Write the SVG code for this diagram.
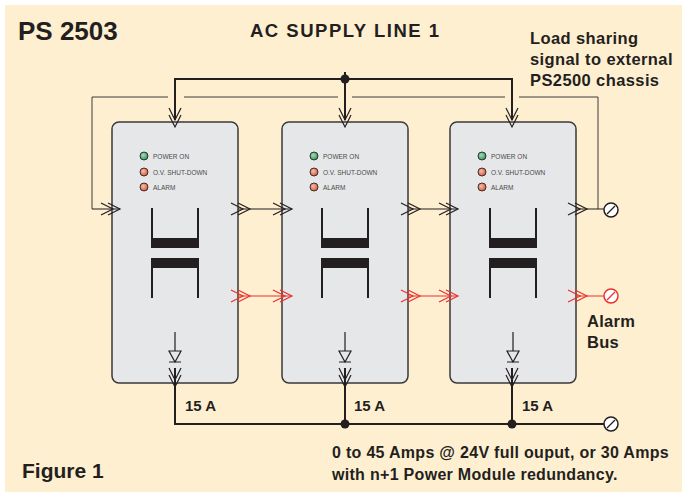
<svg xmlns="http://www.w3.org/2000/svg" xmlns:xlink="http://www.w3.org/1999/xlink" width="682" height="492" viewBox="0 0 682 492">
<style>
.t{font-family:"Liberation Sans",Arial,sans-serif;font-weight:bold;fill:#231f20}
.led{font-family:"Liberation Sans",Arial,sans-serif;font-size:6.5px;fill:#4a4a4a}
.box{fill:#e6e7e9;stroke:#3a3a3a;stroke-width:1.5}
.w{fill:none;stroke:#231f20;stroke-width:1.2}
.ac{fill:none;stroke:#231f20;stroke-width:2}
.ls{fill:none;stroke:#3a3a3a;stroke-width:1}
.red{fill:none;stroke:#e8322e;stroke-width:1.2}
.chk{fill:none;stroke:#231f20;stroke-width:1.2}
.chr{fill:none;stroke:#e8322e;stroke-width:1.2}
.xf{fill:none;stroke:#231f20;stroke-width:2}
.bar{fill:#231f20}
.term{fill:#fff;stroke:#231f20;stroke-width:1.5}
.termr{fill:#fff;stroke:#e8322e;stroke-width:1.5}
.dot{fill:#231f20}
</style>
<defs>
<path id="chev" d="M-12,-6 L0,0 L-12,6 M-19,-6 L-7,0 L-19,6"/>
<radialGradient id="gG" cx="0.4" cy="0.4" r="0.6"><stop offset="0" stop-color="#a8dcb8"/><stop offset="1" stop-color="#2f9a5a"/></radialGradient>
<radialGradient id="gR" cx="0.4" cy="0.4" r="0.6"><stop offset="0" stop-color="#f8c0a8"/><stop offset="1" stop-color="#e4553a"/></radialGradient>
<g id="module">
<rect class="box" x="0" y="0" width="126" height="261" rx="7"/>
<circle cx="32" cy="34" r="4" fill="url(#gG)" stroke="#333" stroke-width="1"/>
<circle cx="32" cy="50" r="4" fill="url(#gR)" stroke="#333" stroke-width="1"/>
<circle cx="32" cy="65" r="4" fill="url(#gR)" stroke="#333" stroke-width="1"/>
<text class="led" x="41" y="36.5">POWER ON</text>
<text class="led" x="41" y="52.5">O.V. SHUT-DOWN</text>
<text class="led" x="41" y="67.5">ALARM</text>
<path class="xf" d="M40,86 V117 M86,86 V117 M40,146 V176 M86,146 V176"/>
<rect class="bar" x="39" y="116" width="48" height="10"/>
<rect class="bar" x="39" y="136" width="48" height="10"/>
<path class="w" d="M63,210 V229 M57,229 H69 L63,240 Z M57,240 H69"/>
</g>
</defs>
<rect x="0" y="0" width="682" height="492" fill="#fff"/>
<rect x="5" y="5" width="677" height="487" fill="#ffefd1"/>

<g id="title">
<text class="t" x="18" y="40" font-size="26">PS 2503</text>
<text class="t" x="250" y="37" font-size="18.5" letter-spacing="1.5">AC SUPPLY  LINE 1</text>
<text class="t" x="530" y="44" font-size="16.5" letter-spacing="0.4">Load sharing</text>
<text class="t" x="530" y="65" font-size="16.5" letter-spacing="0.4">signal to external</text>
<text class="t" x="530" y="86" font-size="16.5" letter-spacing="0.4">PS2500 chassis</text>
</g>

<g id="module1"><use xlink:href="#module" x="112" y="122"/></g>
<g id="module2"><use xlink:href="#module" x="282" y="122"/></g>
<g id="module3"><use xlink:href="#module" x="450" y="122"/></g>

<g id="connectors">
<path class="ac" d="M345,72 V79 M175,120 V79 H512 V120 M345,79 V120"/>
<circle class="dot" cx="345" cy="79" r="4.5"/>
<use href="#chev" class="chk" transform="translate(175,127) rotate(90)"/>
<use href="#chev" class="chk" transform="translate(345,127) rotate(90)"/>
<use href="#chev" class="chk" transform="translate(512,127) rotate(90)"/>
<path class="ls" d="M92,209 V97 H168 M184,97 H338 M352,97 H505 M519,97 H598 V209"/>
<path class="w" d="M92,209 H120 M238,209 H292 M408,209 H458 M576,209 H604"/>
<use href="#chev" class="chk" transform="translate(120,209)"/>
<use href="#chev" class="chk" transform="translate(250,209)"/>
<use href="#chev" class="chk" transform="translate(292,209)"/>
<use href="#chev" class="chk" transform="translate(420,209)"/>
<use href="#chev" class="chk" transform="translate(458,209)"/>
<use href="#chev" class="chk" transform="translate(587,209)"/>
<circle class="term" cx="611" cy="210" r="7"/>
<path class="w" d="M607,214 L615,206" stroke-width="1.5"/>
<path class="red" d="M238,296 H292 M408,296 H458 M576,296 H604"/>
<use href="#chev" class="chr" transform="translate(250,296)"/>
<use href="#chev" class="chr" transform="translate(292,296)"/>
<use href="#chev" class="chr" transform="translate(420,296)"/>
<use href="#chev" class="chr" transform="translate(458,296)"/>
<use href="#chev" class="chr" transform="translate(587,296)"/>
<circle class="termr" cx="611" cy="296" r="7"/>
<path class="red" d="M607,300 L615,292" stroke-width="1.5"/>
<path class="ac" d="M175,368 V424 H604 M345,368 V424 M512,368 V424" stroke-width="1.8"/>
<use href="#chev" class="chk" transform="translate(175,387) rotate(90)"/>
<use href="#chev" class="chk" transform="translate(345,387) rotate(90)"/>
<use href="#chev" class="chk" transform="translate(512,387) rotate(90)"/>
<circle class="dot" cx="345" cy="424" r="4.5"/>
<circle class="dot" cx="512" cy="424" r="4.5"/>
<circle class="term" cx="611" cy="424" r="7"/>
<path class="w" d="M607,428 L615,420" stroke-width="1.5"/>
</g>

<g id="labels">
<text class="t" x="185" y="411" font-size="15">15 A</text>
<text class="t" x="354" y="411" font-size="15">15 A</text>
<text class="t" x="522" y="411" font-size="15">15 A</text>
<text class="t" x="587" y="327" font-size="16.5" letter-spacing="0.3">Alarm</text>
<text class="t" x="587" y="348" font-size="16.5" letter-spacing="0.3">Bus</text>
<text class="t" x="332" y="458" font-size="16" letter-spacing="0.3">0 to 45 Amps @ 24V full ouput, or 30 Amps</text>
<text class="t" x="332" y="480" font-size="16" letter-spacing="0.3">with n+1 Power Module redundancy.</text>
<text class="t" x="22" y="478" font-size="21">Figure 1</text>
</g>
</svg>
